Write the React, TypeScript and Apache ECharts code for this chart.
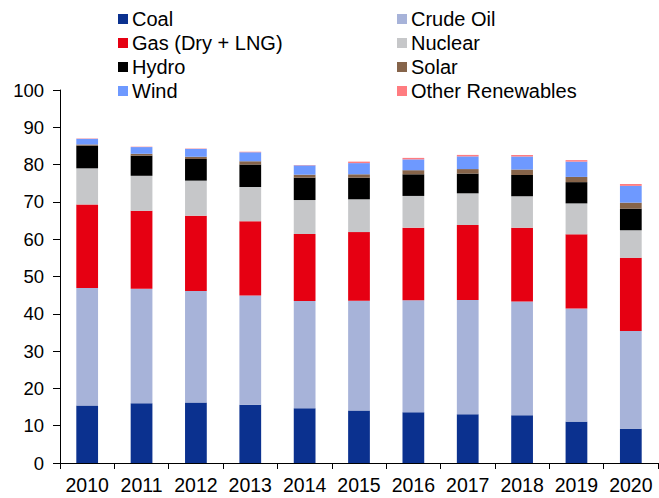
import React, { useEffect, useRef } from "react";
import * as echarts from "echarts";

const years = ["2010", "2011", "2012", "2013", "2014", "2015", "2016", "2017", "2018", "2019", "2020"];
const coal = [15.4, 16.0, 16.2, 15.6, 14.7, 14.1, 13.6, 13.1, 12.8, 11.1, 9.2];
const crudeOil = [31.5, 30.7, 29.9, 29.3, 28.7, 29.4, 30.0, 30.6, 30.5, 30.3, 26.2];
const gas = [22.4, 20.9, 20.2, 19.9, 18.0, 18.4, 19.5, 20.1, 19.8, 19.9, 19.6];
const nuclear = [9.7, 9.4, 9.4, 9.2, 9.1, 8.8, 8.5, 8.5, 8.4, 8.3, 7.4];
const hydro = [6.1, 5.4, 5.8, 6.0, 6.0, 5.8, 5.8, 5.3, 5.7, 5.7, 5.8];
const solar = [0.3, 0.5, 0.6, 0.9, 0.8, 0.9, 1.1, 1.2, 1.5, 1.4, 1.6];
const wind = [1.5, 1.8, 2.1, 2.4, 2.5, 3.0, 2.9, 3.4, 3.5, 4.1, 4.5];
const otherRenewables = [0.1, 0.1, 0.1, 0.15, 0.1, 0.4, 0.4, 0.4, 0.4, 0.4, 0.5];

const seriesNames = ["Coal", "Crude Oil", "Gas (Dry + LNG)", "Nuclear", "Hydro", "Solar", "Wind", "Other Renewables"];
const seriesData = [coal, crudeOil, gas, nuclear, hydro, solar, wind, otherRenewables];
const colors = ["#0B318F", "#A7B3D9", "#E60012", "#C6C7C9", "#000000", "#86644A", "#6E99FF", "#FF7C80"];
const leftLegend = ["Coal", "Gas (Dry + LNG)", "Hydro", "Wind"];
const rightLegend = ["Crude Oil", "Nuclear", "Solar", "Other Renewables"];

const FONT = "'Liberation Sans', Arial, sans-serif";

export default function App() {
  const ref = useRef<HTMLDivElement>(null);
  useEffect(() => {
    if (!ref.current) return;
    const chart = echarts.init(ref.current, null, { renderer: "svg" });
    const legendCommon = {
      orient: "vertical" as const,
      top: 9,
      itemWidth: 10,
      itemHeight: 10,
      itemGap: 4,
      icon: "rect",
      padding: 0,
      textStyle: { fontFamily: FONT, fontSize: 20, color: "#000", lineHeight: 20, padding: [0, 0, 0, -1] },
    };
    chart.setOption({
      animation: false,
      color: colors,
      textStyle: { fontFamily: FONT },
      legend: [
        { ...legendCommon, left: 118, data: leftLegend },
        { ...legendCommon, left: 397, data: rightLegend },
      ],
      grid: { left: 60, right: 1, top: 90, bottom: 35, containLabel: false },
      xAxis: {
        type: "category",
        data: years,
        axisLine: { lineStyle: { color: "#000", width: 1 } },
        axisTick: { show: true, length: 6, lineStyle: { color: "#000" } },
        axisLabel: { fontFamily: FONT, fontSize: 19.5, color: "#000", margin: 12, interval: 0 },
      },
      yAxis: {
        type: "value",
        min: 0,
        max: 100,
        interval: 10,
        splitLine: { show: false },
        axisLine: { show: true, lineStyle: { color: "#000", width: 1 } },
        axisTick: { show: true, length: 7, lineStyle: { color: "#000" } },
        axisLabel: { fontFamily: FONT, fontSize: 18.5, color: "#000", margin: 16 },
      },
      series: seriesNames.map((name, i) => ({
        name,
        type: "bar",
        stack: "total",
        data: seriesData[i],
        barWidth: "40%",
        itemStyle: { color: colors[i] },
      })),
    });
    return () => chart.dispose();
  }, []);
  return <div ref={ref} style={{ width: 659, height: 498, position: "absolute", left: 0, top: 0 }} />;
}
